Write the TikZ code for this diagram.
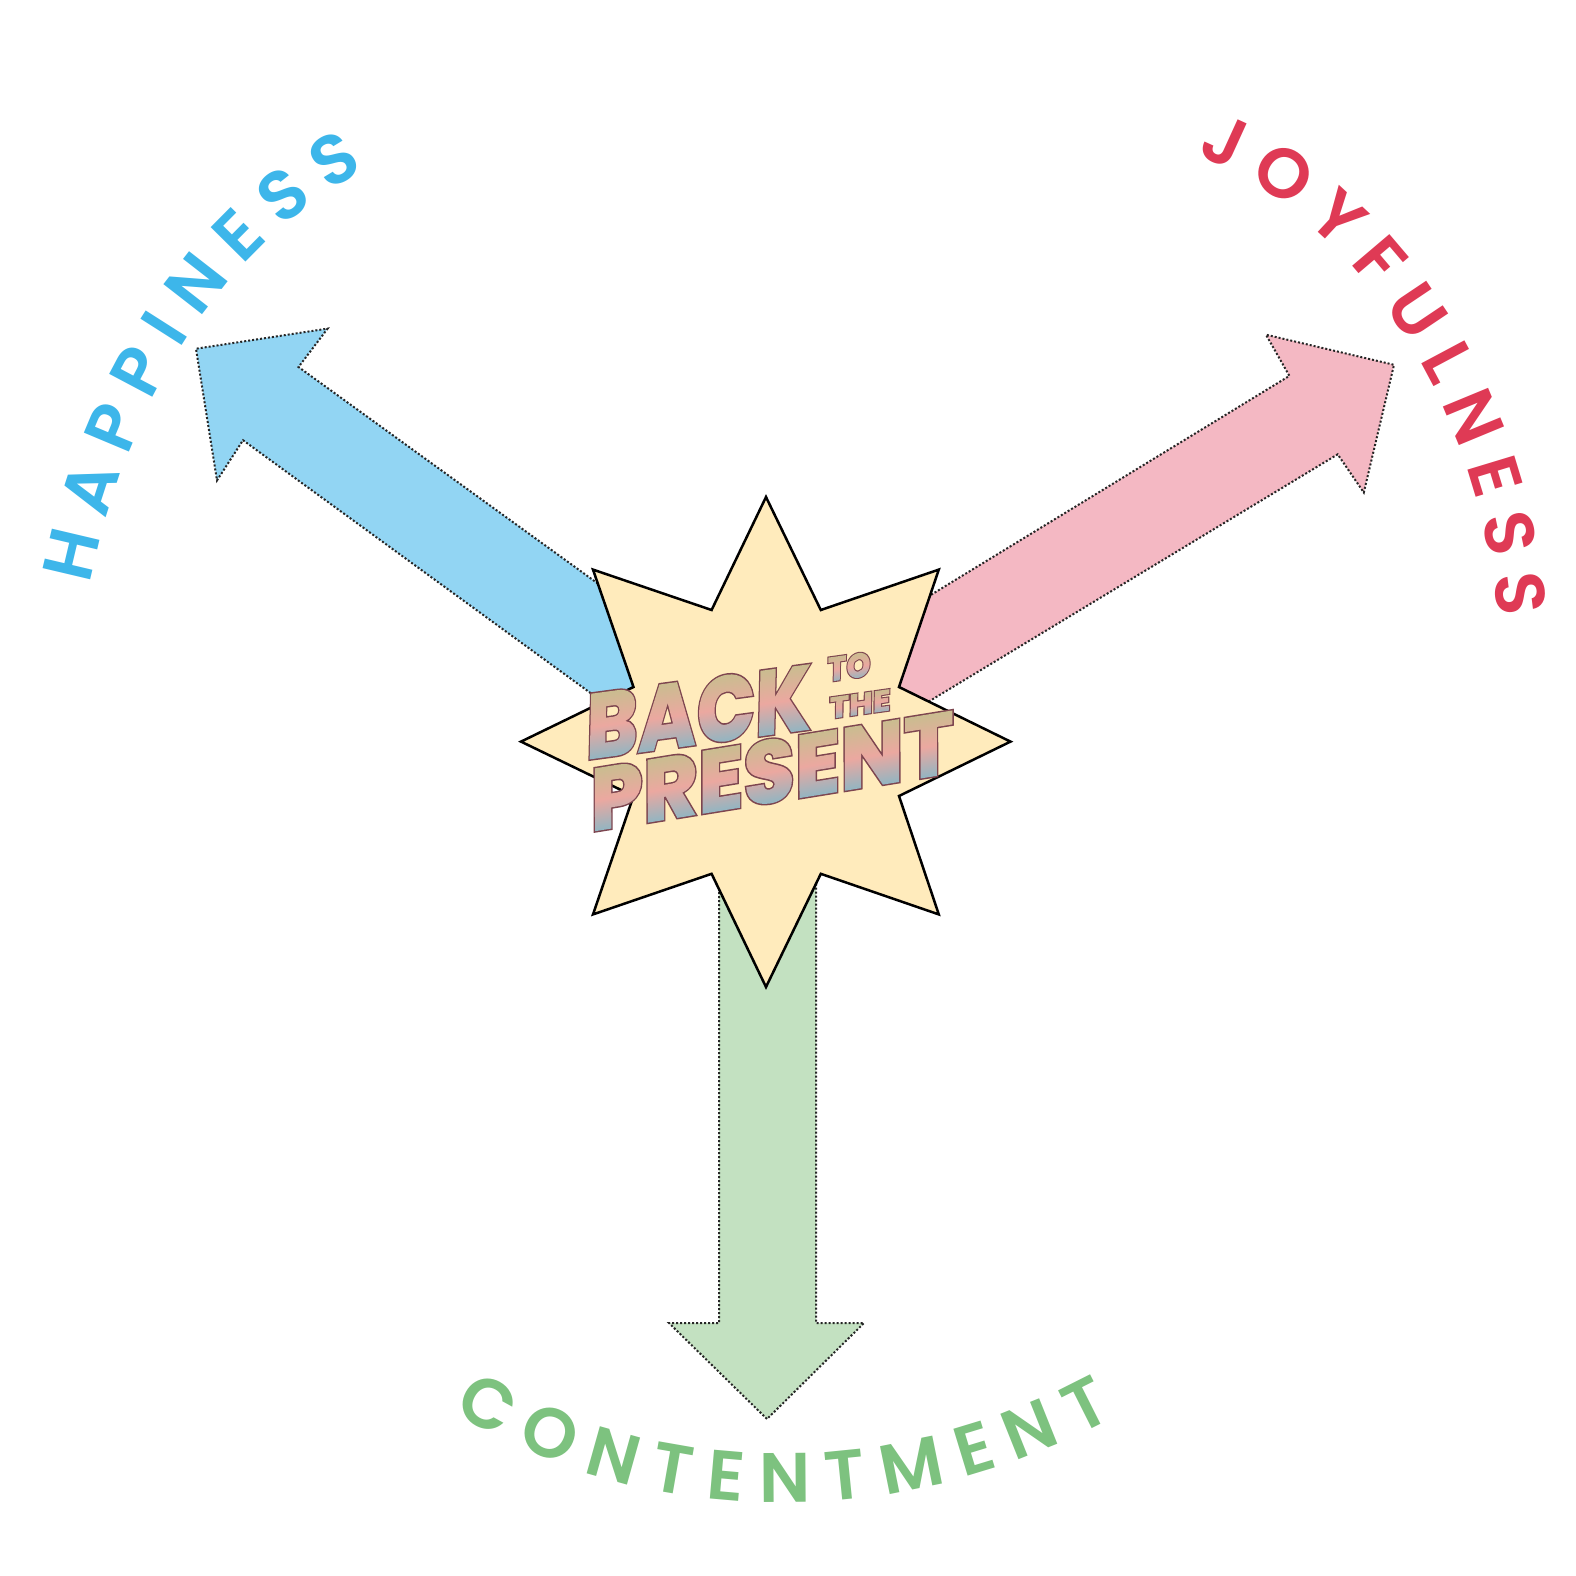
\documentclass[tikz,border=0pt]{standalone}
\usepackage{fontspec}
\usetikzlibrary{decorations.text}
\setmainfont{Poppins}
\newfontfamily\labelfont{Poppins SemiBold}
\newfontfamily\titlefont{Poppins ExtraBold}
\definecolor{pinkfill}{HTML}{F4B8C3}
\definecolor{bluefill}{HTML}{92D5F3}
\definecolor{greenfill}{HTML}{C3E1C1}
\definecolor{starfill}{HTML}{FFEBBC}
\definecolor{bluetext}{HTML}{3DB6EA}
\definecolor{redtext}{HTML}{DF3A55}
\definecolor{greentext}{HTML}{7DC27F}
\definecolor{gtop}{HTML}{C9BD8F}
\definecolor{gmid}{HTML}{EBA8A0}
\definecolor{gbot}{HTML}{8CB6C4}
\tikzset{
  arrowshape/.style={draw=black!85,line width=1pt,dash pattern=on 1pt off 1pt},
  titleword/.style n args={4}{shift={(#1)},rotate=#2,xslant=#3,xscale=#4},
  wordnode/.style={inner sep=0,anchor=base west,transform shape},
}
% word with gradient: the glyphs are stroked and become the clip for the shading
\newcommand{\gradword}[4]{% size, stroke width, word, cap height
  \setbox0=\hbox{\titlefont\fontsize{#1}{#1}\selectfont #3}%
  \special{pdf:code q #2 w 0.49 0.27 0.31 RG 5 Tr}%
  \copy0%
  \special{pdf:code 0 Tr}%
  \begin{tikzpicture}[overlay,x=1pt,y=1pt]
    \shade[top color=gtop,bottom color=gbot,middle color=gmid] (-\wd0-5pt,-1pt) rectangle (5pt,#4);
  \end{tikzpicture}%
  \special{pdf:code Q}%
}
\begin{document}
\begin{tikzpicture}[x=.5pt,y=-.5pt]
\useasboundingbox (0,0) rectangle (1576,1576);
\fill[white] (0,0) rectangle (1576,1576);
% arrows
\path[arrowshape,fill=greenfill] (719,880) -- (719,1323) -- (669,1323) -- (767,1419) -- (864,1323) -- (816,1323) -- (816,880);
\path[arrowshape,fill=pinkfill] (880,626) -- (1289.4,375.9) -- (1266,334.7) -- (1394,364.8) -- (1363.8,492.5) -- (1337.7,454.3) -- (880,731);
\path[arrowshape,fill=bluefill] (640,614) -- (298.5,367) -- (327.6,328.6) -- (196,348.7) -- (217,480.4) -- (243,440.2) -- (640,729);
% star
\path[draw=black,line width=1.25pt,fill=starfill,line join=miter]
  (766,497) -- (820.8,610) -- (938.8,569.6) -- (899,687) -- (1010.5,741.6) -- (899,796)
  -- (938.8,914.4) -- (820.8,873.8) -- (766,987) -- (711.6,873.8) -- (593,914.4) -- (633.5,796)
  -- (521,741.6) -- (633.5,687) -- (593,569.6) -- (711.6,610) -- cycle;
% title
\begin{scope}[titleword={585,760}{7.7}{.16}{.85}]
  \node[wordnode] (back) at (0,0) {\gradword{46}{1.5}{BACK}{33pt}};
\end{scope}
\begin{scope}[titleword={827,682}{8}{.16}{.92}]
  \node[wordnode] (to) at (0,0) {\gradword{17}{1.1}{TO}{12.5pt}};
\end{scope}
\begin{scope}[titleword={829,719}{8}{.16}{1.08}]
  \node[wordnode] (the) at (0,0) {\gradword{15}{1.1}{THE}{11pt}};
\end{scope}
\begin{scope}[titleword={590,832}{9.2}{.16}{.955}]
  \node[wordnode] (present) at (0,0) {\gradword{44}{1.5}{PRESENT}{31.5pt}};
\end{scope}
% curved labels
\path[decorate,decoration={text along path,text align={fit to path},text={|\labelfont\fontsize{35}{35}\selectfont\color{bluetext}|HAPPINESS}}]
  (90,585) .. controls (132,382) and (232,242) .. (365,170);
\path[decorate,decoration={text along path,text align={fit to path},text={|\labelfont\fontsize{35}{35}\selectfont\color{redtext}|JOYFULNESS}}]
  (1196,155) .. controls (1350,215) and (1478,392) .. (1498,618);
\path[decorate,decoration={text along path,text align={fit to path},text={|\labelfont\fontsize{35}{35}\selectfont\color{greentext}|CONTENTMENT}}]
  (453,1412) .. controls (650,1532) and (900,1532) .. (1114,1417);
\end{tikzpicture}
\end{document}
